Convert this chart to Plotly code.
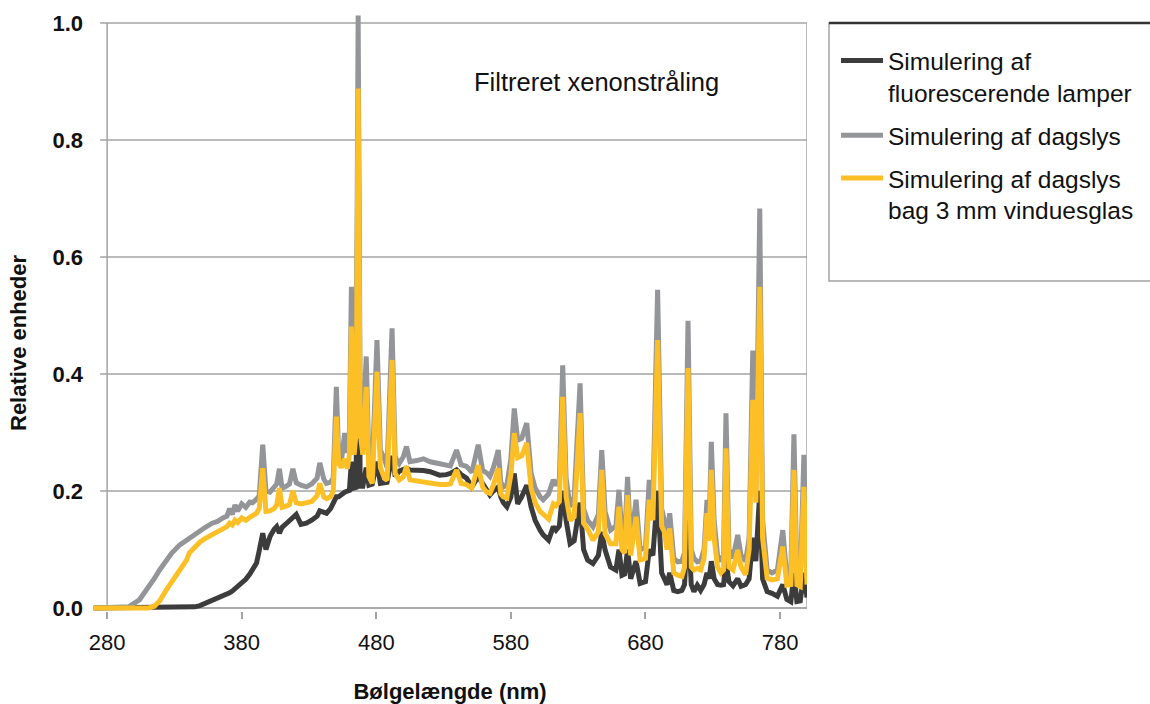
import plotly.graph_objects as go

# ---------------- data ----------------
wavelength = [270, 296, 304, 311, 315, 319, 324, 328, 334, 339, 341, 345, 349, 353, 358, 362, 366, 369, 371, 373,
              375, 377, 380, 383, 386, 388, 391, 393, 395.6, 398, 401, 404, 406, 408, 410, 413, 415.5, 418, 420.5, 424,
              428, 432, 436, 438, 441, 443, 446, 448, 450.3, 452, 454, 456.5, 458.5, 460, 461.5, 463.5, 465, 466.5, 468, 470,
              472.5, 474.5, 477, 480.5, 483, 486, 488, 491.7, 494, 497, 500, 502.4, 505, 510, 515, 520, 527, 532, 535, 539.6,
              543, 547, 551, 555.7, 559, 562, 564.4, 567, 570.6, 572.5, 574.4, 577, 580, 582.5, 585, 588, 591.8, 595, 598, 601.7,
              604, 608, 611.5, 613.5, 616, 618.5, 621, 624, 627, 631.4, 634, 637, 641, 645, 647.5, 650, 654, 658, 660.3, 662.5,
              664.5, 666.7, 669, 673, 676, 680, 682.8, 685.5, 689, 692, 694, 696, 698, 701, 704, 707, 709, 711.6, 714, 716,
              718.5, 721, 723.5, 725.7, 727.3, 728.9, 731, 733.5, 736, 738, 739.8, 742, 745, 748.5, 751, 754.4, 757, 759.7, 762, 764.9,
              767, 770.4, 774, 778, 782, 785, 788, 790.3, 792.5, 795, 797.7, 800]

fluorescent = [0, 0, 0, 0, 0, 0, 0, 0, 0, 0, 0.001, 0.002, 0.004, 0.008, 0.012, 0.015, 0.019, 0.023, 0.026, 0.029,
               0.033, 0.037, 0.043, 0.049, 0.058, 0.065, 0.077, 0.098, 0.128, 0.100, 0.122, 0.134, 0.139, 0.128, 0.138, 0.144, 0.150, 0.156, 0.160, 0.143,
               0.145, 0.150, 0.157, 0.166, 0.164, 0.162, 0.170, 0.180, 0.190, 0.190, 0.194, 0.198, 0.200, 0.201, 0.250, 0.205, 0.206, 0.850, 0.208, 0.208,
               0.240, 0.210, 0.212, 0.250, 0.213, 0.214, 0.215, 0.260, 0.225, 0.234, 0.237, 0.239, 0.236, 0.236, 0.235, 0.233, 0.227, 0.228, 0.230, 0.236,
               0.228, 0.222, 0.207, 0.225, 0.212, 0.200, 0.193, 0.200, 0.207, 0.190, 0.180, 0.173, 0.190, 0.230, 0.178, 0.190, 0.210, 0.173, 0.150, 0.133,
               0.125, 0.116, 0.139, 0.133, 0.140, 0.200, 0.150, 0.110, 0.115, 0.180, 0.100, 0.082, 0.076, 0.090, 0.130, 0.099, 0.070, 0.065, 0.100, 0.056,
               0.058, 0.100, 0.050, 0.080, 0.042, 0.045, 0.100, 0.090, 0.200, 0.060, 0.050, 0.040, 0.060, 0.030, 0.028, 0.030, 0.040, 0.150, 0.040, 0.028,
               0.039, 0.030, 0.040, 0.060, 0.050, 0.080, 0.050, 0.040, 0.039, 0.040, 0.080, 0.045, 0.038, 0.050, 0.037, 0.040, 0.050, 0.120, 0.080, 0.200,
               0.050, 0.028, 0.025, 0.020, 0.040, 0.015, 0.011, 0.060, 0.011, 0.012, 0.060, 0.018]

daylight = [0, 0.002, 0.014, 0.036, 0.050, 0.065, 0.080, 0.094, 0.108, 0.116, 0.120, 0.127, 0.133, 0.138, 0.145, 0.148, 0.154, 0.157, 0.170, 0.160,
            0.176, 0.166, 0.178, 0.172, 0.181, 0.180, 0.186, 0.192, 0.279, 0.200, 0.198, 0.205, 0.212, 0.238, 0.205, 0.208, 0.212, 0.238, 0.214, 0.210,
            0.207, 0.212, 0.222, 0.248, 0.220, 0.213, 0.215, 0.222, 0.378, 0.262, 0.250, 0.299, 0.265, 0.300, 0.549, 0.300, 0.350, 1.013, 0.350, 0.300,
            0.430, 0.250, 0.238, 0.458, 0.270, 0.255, 0.240, 0.478, 0.258, 0.247, 0.258, 0.276, 0.250, 0.252, 0.255, 0.250, 0.247, 0.245, 0.243, 0.270,
            0.245, 0.242, 0.232, 0.279, 0.235, 0.231, 0.225, 0.240, 0.270, 0.215, 0.207, 0.210, 0.255, 0.341, 0.287, 0.290, 0.316, 0.231, 0.205, 0.190,
            0.185, 0.195, 0.219, 0.210, 0.220, 0.415, 0.222, 0.173, 0.190, 0.384, 0.170, 0.150, 0.139, 0.160, 0.270, 0.164, 0.133, 0.140, 0.202, 0.125,
            0.120, 0.224, 0.110, 0.185, 0.099, 0.105, 0.219, 0.180, 0.544, 0.170, 0.150, 0.120, 0.162, 0.085, 0.079, 0.080, 0.095, 0.491, 0.100, 0.085,
            0.079, 0.080, 0.100, 0.185, 0.140, 0.284, 0.150, 0.090, 0.080, 0.090, 0.333, 0.100, 0.085, 0.125, 0.090, 0.080, 0.120, 0.440, 0.200, 0.683,
            0.150, 0.065, 0.060, 0.065, 0.133, 0.054, 0.060, 0.297, 0.055, 0.048, 0.262, 0.050]

daylight_glass = [0, 0, 0, 0, 0.003, 0.012, 0.031, 0.045, 0.065, 0.082, 0.094, 0.105, 0.113, 0.119, 0.125, 0.129, 0.135, 0.139, 0.145, 0.142,
                  0.150, 0.146, 0.154, 0.150, 0.155, 0.158, 0.162, 0.170, 0.239, 0.165, 0.166, 0.170, 0.176, 0.205, 0.172, 0.174, 0.177, 0.200, 0.180, 0.178,
                  0.179, 0.182, 0.192, 0.213, 0.190, 0.187, 0.190, 0.200, 0.327, 0.248, 0.240, 0.255, 0.238, 0.262, 0.481, 0.262, 0.300, 0.888, 0.300, 0.262,
                  0.378, 0.225, 0.213, 0.404, 0.240, 0.222, 0.218, 0.424, 0.230, 0.219, 0.224, 0.242, 0.219, 0.217, 0.214, 0.213, 0.211, 0.211, 0.212, 0.236,
                  0.213, 0.211, 0.205, 0.244, 0.207, 0.198, 0.196, 0.210, 0.239, 0.195, 0.190, 0.188, 0.228, 0.299, 0.257, 0.260, 0.282, 0.205, 0.180, 0.165,
                  0.160, 0.152, 0.178, 0.175, 0.182, 0.361, 0.190, 0.150, 0.156, 0.333, 0.145, 0.135, 0.116, 0.130, 0.236, 0.127, 0.110, 0.110, 0.173, 0.100,
                  0.094, 0.193, 0.090, 0.156, 0.082, 0.085, 0.185, 0.150, 0.458, 0.140, 0.130, 0.100, 0.136, 0.060, 0.056, 0.054, 0.070, 0.410, 0.070, 0.065,
                  0.068, 0.065, 0.085, 0.162, 0.115, 0.236, 0.120, 0.070, 0.060, 0.065, 0.273, 0.070, 0.065, 0.099, 0.070, 0.057, 0.100, 0.356, 0.180, 0.549,
                  0.120, 0.051, 0.048, 0.050, 0.105, 0.039, 0.040, 0.236, 0.040, 0.037, 0.207, 0.040]

series_names = ["Simulering af<br>fluorescerende lamper", "Simulering af dagslys",
                "Simulering af dagslys<br>bag 3 mm vinduesglas"]
series_colors = ["#3c3c3c", "#939598", "#fdbf26"]

x_ticks = [280, 380, 480, 580, 680, 780]
y_ticks = [0.0, 0.2, 0.4, 0.6, 0.8, 1.0]

x_title = "Bølgelængde (nm)"
y_title = "Relative enheder"
chart_note = "Filtreret xenonstråling"

# ---------------- figure ----------------
W, H = 1150, 704
ML, MR, MT, MB = 93, 343, 5, 93
X_RANGE = [269.5, 800]
Y_RANGE = [-3 / 585, 603 / 585]
GRID = "#a3a3a3"
FONT = "Liberation Sans, Arial, sans-serif"
pw, ph = W - ML - MR, H - MT - MB

fig = go.Figure()
for i, ys in enumerate([fluorescent, daylight, daylight_glass]):
    fig.add_trace(go.Scatter(
        x=wavelength, y=ys, mode="lines", name=series_names[i],
        line=dict(color=series_colors[i], width=5), legendgroup=f"g{i}",
        hoverinfo="x+y"))

# grid lines (with tick stubs to the left of the value axis)
tick_stub = 7 * (X_RANGE[1] - X_RANGE[0]) / pw
for v in y_ticks:
    fig.add_shape(type="line", xref="x", yref="y", x0=x_ticks[0] - tick_stub, x1=X_RANGE[1], y0=v, y1=v,
                  line=dict(color=GRID, width=1.5), layer="below")
# value axis line, right frame, category axis line
fig.add_shape(type="line", xref="x", yref="y", x0=x_ticks[0], x1=x_ticks[0], y0=0, y1=y_ticks[-1],
              line=dict(color=GRID, width=1.5), layer="below")
fig.add_shape(type="line", xref="x", yref="y", x0=X_RANGE[1], x1=X_RANGE[1], y0=0, y1=y_ticks[-1],
              line=dict(color=GRID, width=1.5), layer="below")
fig.add_shape(type="line", xref="x", yref="y", x0=x_ticks[0], x1=X_RANGE[1], y0=0, y1=0,
              line=dict(color=GRID, width=1.5), layer="below")

# legend frame
lx0 = (829 - ML) / pw
lx1 = (1170 - ML) / pw
ly0 = (H - MB - 281) / ph
ly1 = (H - MB - 23) / ph
fig.add_shape(type="rect", xref="paper", yref="paper", x0=lx0, x1=lx1, y0=ly0, y1=ly1,
              line=dict(color=GRID, width=1.5), fillcolor="rgba(0,0,0,0)")
fig.add_shape(type="line", xref="paper", yref="paper", x0=lx0, x1=lx1, y0=ly1, y1=ly1,
              line=dict(color="#333333", width=2.5))

fig.add_annotation(text=chart_note, xref="paper", yref="paper",
                   x=(596 - ML) / pw, y=(H - MB - 82) / ph, xanchor="center", yanchor="middle",
                   showarrow=False, font=dict(family=FONT, size=25.5, color="#111111"))

# value-axis title
fig.add_annotation(text=y_title, xref="paper", yref="paper", textangle=-90,
                   x=(18 - ML) / pw, y=(H - MB - 343) / ph, xanchor="center", yanchor="middle",
                   showarrow=False, font=dict(family=FONT, size=22, color="#111111", weight="bold"))

fig.update_layout(
    width=W, height=H, margin=dict(l=ML, r=MR, t=MT, b=MB, autoexpand=False),
    paper_bgcolor="white", plot_bgcolor="white",
    font=dict(family=FONT, color="#111111"),
    showlegend=True,
    legend=dict(x=(836 - ML) / pw, y=(H - MB - 38) / ph, xanchor="left", yanchor="top",
                font=dict(family=FONT, size=24.5, color="#111111"), bgcolor="rgba(0,0,0,0)",
                borderwidth=0, valign="top", traceorder="grouped", tracegroupgap=8, itemwidth=42),
    xaxis=dict(range=X_RANGE, tickvals=x_ticks, ticktext=[str(t) for t in x_ticks],
               ticks="outside", ticklen=7, tickwidth=1.5, tickcolor=GRID,
               showgrid=False, zeroline=False, showline=False, ticklabelstandoff=5,
               tickfont=dict(family=FONT, size=22, color="#111111"),
               title=dict(text=x_title, standoff=29,
                          font=dict(family=FONT, size=22, color="#111111", weight="bold"))),
    yaxis=dict(range=Y_RANGE, tickvals=y_ticks, ticktext=[f"{t:.1f}" for t in y_ticks],
               ticks="", showgrid=False, zeroline=False, showline=False, ticklabelstandoff=9,
               tickfont=dict(family=FONT, size=22, color="#111111", weight="bold")),
)

fig.write_html("out.html")
